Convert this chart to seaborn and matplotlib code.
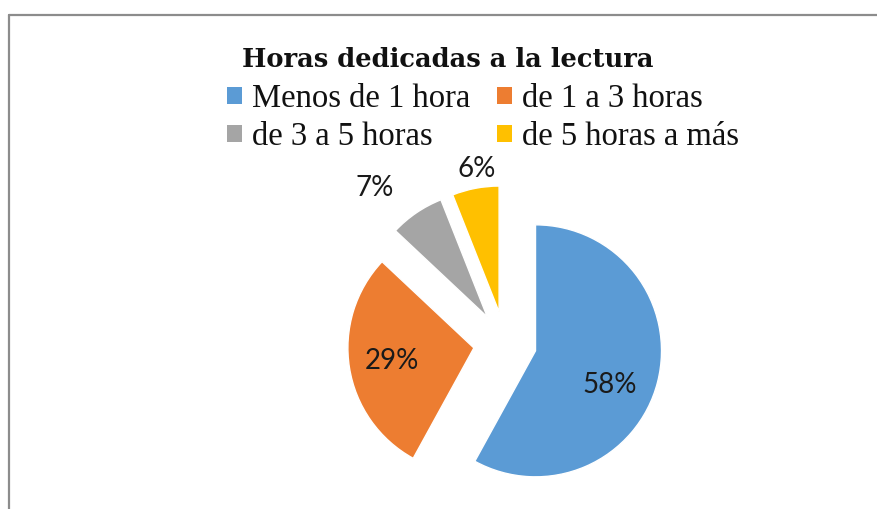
import matplotlib
matplotlib.use("Agg")
import matplotlib.pyplot as plt
import seaborn as sns
import numpy as np
from matplotlib.patches import Patch
from matplotlib.lines import Line2D

# Data
categories = ["Menos de 1 hora", "de 1 a 3 horas", "de 3 a 5 horas", "de 5 horas a más"]
percents = [58, 29, 7, 6]
colors = ["#5B9BD5", "#ED7D31", "#A5A5A5", "#FFC000"]
title = "Horas dedicadas a la lectura"

sns.set_theme(style="white")
palette = sns.color_palette(colors)

W, H = 877, 509
fig = plt.figure(figsize=(W / 100, H / 100), dpi=100)

# pie placement in pixels
R = 126
cx, cy = 505, 343
half = 180
ax = fig.add_axes([(cx - half) / W, (H - cy - half) / H, 2 * half / W, 2 * half / H])

wedges, texts, autotexts = ax.pie(
    percents, colors=palette, startangle=90, counterclock=False,
    explode=[0.25] * 4, autopct="%d%%", pctdistance=0.65,
    textprops=dict(fontsize=20, family="Lato", color="#1a1a1a"))
ax.set_xlim(-half / R, half / R)
ax.set_ylim(-half / R, half / R)
ax.set_aspect("equal")
ax.axis("off")

# label distance (in radii) and angular nudge (deg) for each slice
label_pos = [(0.65, -10), (0.66, 0), (1.36, 7), (1.15, -2)]
for w, t, (dist, nudge) in zip(wedges, autotexts, label_pos):
    ang = np.deg2rad((w.theta1 + w.theta2) / 2 + nudge)
    x0, y0 = w.center
    t.set_position((x0 + dist * np.cos(ang), y0 + dist * np.sin(ang)))

fig.text(448 / W, 1 - 67 / H, title, ha="center", va="baseline",
         fontsize=18.5, fontweight="bold", family="DejaVu Serif", color="#111111")

handles = [Patch(facecolor=c, edgecolor="none") for c in palette]
order = [0, 2, 1, 3]
fig.legend([handles[i] for i in order], [categories[i] for i in order],
           ncol=2, loc="center", bbox_to_anchor=(483 / W, 1 - 118 / H),
           frameon=False, prop=dict(family="Liberation Serif", size=23.5),
           handlelength=0.44, handleheight=0.44, handletextpad=0.3,
           columnspacing=0.85, labelspacing=0.22, labelcolor="#111111",
           borderpad=0, borderaxespad=0)

# chart-area frame (top and left edges visible)
fig.add_artist(Line2D([9 / W, 1], [1 - 15 / H, 1 - 15 / H], color="#8c8c8c", lw=1.6))
fig.add_artist(Line2D([9 / W, 9 / W], [0, 1 - 15 / H], color="#8c8c8c", lw=1.6))

fig.savefig("out.png", dpi=100)
